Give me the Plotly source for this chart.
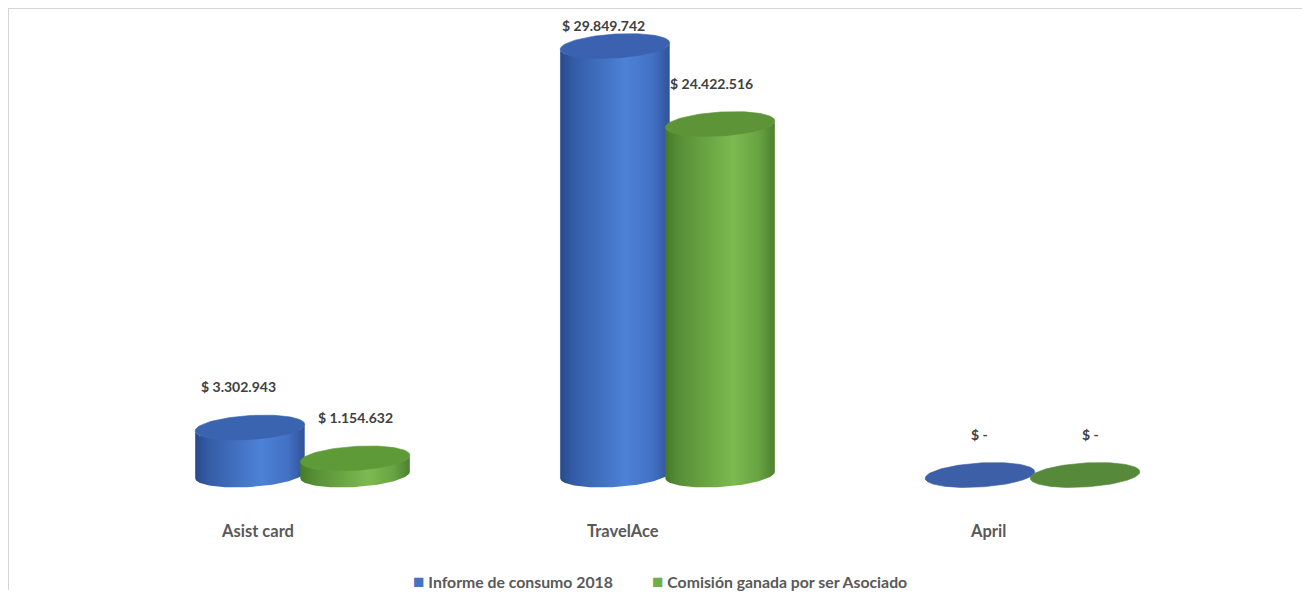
import numpy as np
import plotly.graph_objects as go

# ---------------- data ----------------
categories = ["Asist card", "TravelAce", "April"]
informe_consumo = [3302943, 29849742, 0]
comision_asociado = [1154632, 24422516, 0]
series_names = ["Informe de consumo 2018", "Comisión ganada por ser Asociado"]

# ---------------- geometry / style ----------------
PAGE_OFF = 8               # default body margin of the html page
W, H = 1310 - PAGE_OFF, 598 - PAGE_OFF
ML, MR, MT, MB = 0, 5, 0, 8
BASE_PX = 475.0 - PAGE_OFF  # figure pixel row of value 0
PPM = 14.37                 # pixels per million
UPX = 1e6 / PPM             # value units per pixel
XPX = 365.0                 # pixels per category step
X0_PX = 302.5 - PAGE_OFF    # figure pixel of first category centre

y_range = [-(H - MB - BASE_PX) * UPX, (BASE_PX - MT) * UPX]
x_range = [(ML - X0_PX) / XPX, (W - MR - X0_PX) / XPX]

HALF_W = 0.15               # cylinder half width (x units)
ELL_B = 12 * UPX            # ellipse half height (value units)
SHEAR = 0.06                # perspective tilt of the ellipses (px per px)
offsets = [-0.144, 0.144]

blue_scale = [[0, "rgb(40,74,140)"], [0.12, "rgb(52,92,166)"], [0.6, "rgb(77,130,215)"],
              [0.85, "rgb(66,112,196)"], [1, "rgb(48,82,152)"]]
green_scale = [[0, "rgb(70,122,40)"], [0.12, "rgb(86,142,54)"], [0.62, "rgb(124,186,80)"],
               [0.85, "rgb(104,164,66)"], [1, "rgb(78,128,48)"]]
body_scales = [blue_scale, green_scale]
cap_colors = [["#3a63b0", "#3a62b0", "#3d5fa7"], ["#5e9a38", "#5c9437", "#56893a"]]
solid_colors = ["#4472C4", "#70AD47"]
TEXT_FONT = "Lato"


def fmt(v):
    return "$ -" if v == 0 else "$ " + f"{v:,}".replace(",", ".")


def tilt(dx):
    return SHEAR * (dx * XPX) * UPX


fig = go.Figure()
all_series = [informe_consumo, comision_asociado]
th_low = np.linspace(np.pi, 2 * np.pi, 61)
th_all = np.linspace(0, 2 * np.pi, 121)

for k, vals in enumerate(all_series):
    # the bars themselves
    fig.add_trace(go.Bar(
        x=[i + offsets[k] for i in range(len(vals))], y=vals, base=0,
        width=2 * HALF_W * 0.9, marker=dict(color=solid_colors[k], line=dict(width=0)),
        name=series_names[k], showlegend=False, hoverinfo="skip"))
    for i, v in enumerate(vals):
        xc = i + offsets[k]
        # cylinder body shading (front face)
        dxb = HALF_W * np.cos(th_low)
        bx = np.concatenate([xc + dxb, (xc + dxb)[::-1]])
        by = np.concatenate([ELL_B * np.sin(th_low) + tilt(dxb),
                             (v + ELL_B * np.sin(th_low) + tilt(dxb))[::-1]])
        fig.add_trace(go.Scatter(
            x=bx, y=by, mode="lines", fill="toself", line=dict(width=0),
            fillgradient=dict(type="horizontal", colorscale=body_scales[k],
                              start=xc - HALF_W, stop=xc + HALF_W),
            showlegend=False, hoverinfo="skip"))
        # top cap
        dxa = HALF_W * np.cos(th_all)
        fig.add_trace(go.Scatter(
            x=xc + dxa, y=v + ELL_B * np.sin(th_all) + tilt(dxa), mode="lines",
            fill="toself", fillcolor=cap_colors[k][i],
            line=dict(width=0.6, color=cap_colors[k][i]),
            showlegend=False, hoverinfo="skip"))

annotations = []
top_limit = (BASE_PX - (25 - PAGE_OFF)) * UPX
label_xshift = [[-11, -11, 0], [0, -9, 5]]
for k, vals in enumerate(all_series):
    for i, v in enumerate(vals):
        ly = min(v + ELL_B + 29 * UPX, top_limit)
        annotations.append(dict(
            x=i + offsets[k], y=ly, xref="x", yref="y", text=fmt(v),
            showarrow=False, yanchor="middle", xshift=label_xshift[k][i],
            font=dict(family=TEXT_FONT, size=14, color="#404040", weight=700)))

for i, c in enumerate(categories):
    annotations.append(dict(
        x=i, y=(BASE_PX - (531 - PAGE_OFF)) * UPX, xref="x", yref="y", text=c,
        showarrow=False, xshift=-45, yanchor="middle",
        font=dict(family=TEXT_FONT, size=16.5, color="#595959", weight=700)))

# legend (drawn as text entries below the plot)
legend_left_px = [411, 650]
for k, name in enumerate(series_names):
    annotations.append(dict(
        x=(legend_left_px[k] - PAGE_OFF - ML) / (W - ML - MR),
        y=(H - MB - (580 - PAGE_OFF)) / (H - MT - MB),
        xref="paper", yref="paper", xanchor="left", yanchor="middle",
        showarrow=False,
        text=f"<span style='color:{solid_colors[k]};font-size:19px'>■</span> {name}",
        font=dict(family=TEXT_FONT, size=15.8, color="#595959", weight=700)))

fig.update_layout(
    width=W, height=H,
    margin=dict(l=ML, r=MR, t=MT, b=MB),
    paper_bgcolor="white", plot_bgcolor="white",
    barmode="overlay",
    xaxis=dict(range=x_range, visible=False, fixedrange=True),
    yaxis=dict(range=y_range, visible=False, fixedrange=True),
    annotations=annotations,
    showlegend=False,
    shapes=[
        dict(type="line", xref="paper", yref="paper", x0=0, x1=1, y0=1, y1=1,
             line=dict(color="#d4d4d4", width=2)),
        dict(type="line", xref="paper", yref="paper", x0=0, x1=0, y0=0, y1=1,
             line=dict(color="#d4d4d4", width=2)),
    ],
)

fig.write_html("out.html")
